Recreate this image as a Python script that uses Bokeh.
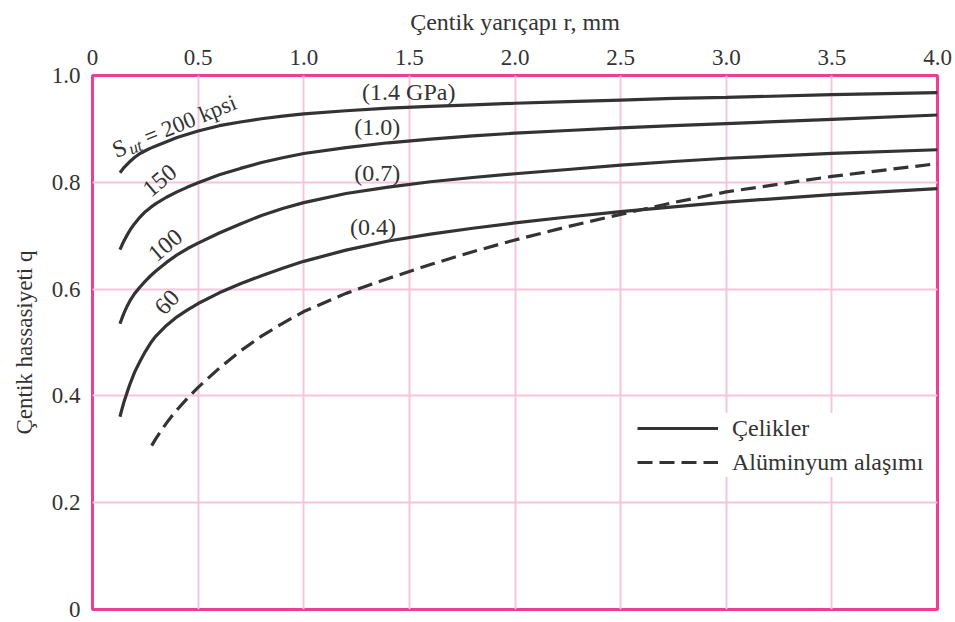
from bokeh.plotting import figure
from bokeh.models import FixedTicker, Label, Legend, LegendItem, Range1d
from bokeh.embed import file_html
from bokeh.resources import INLINE

# ---- data ----
r_steel = [0.13, 0.14, 0.15, 0.165, 0.18, 0.2, 0.225, 0.25, 0.275, 0.3, 0.35, 0.4,
           0.45, 0.5, 0.6, 0.7, 0.8, 0.9, 1.0, 1.2, 1.4, 1.6, 1.8, 2.0, 2.25, 2.5,
           2.75, 3.0, 3.5, 4.0]
q_200 = [0.818, 0.823, 0.828, 0.834, 0.840, 0.847, 0.854, 0.859, 0.864, 0.868,
         0.876, 0.884, 0.890, 0.896, 0.906, 0.913, 0.919, 0.924, 0.928, 0.934,
         0.939, 0.942, 0.945, 0.948, 0.951, 0.954, 0.957, 0.959, 0.964, 0.968]
q_150 = [0.674, 0.683, 0.691, 0.702, 0.712, 0.723, 0.735, 0.745, 0.753, 0.760,
         0.772, 0.782, 0.791, 0.799, 0.814, 0.826, 0.837, 0.846, 0.854, 0.865,
         0.874, 0.881, 0.887, 0.892, 0.897, 0.902, 0.906, 0.910, 0.918, 0.926]
q_100 = [0.535, 0.546, 0.556, 0.569, 0.580, 0.592, 0.604, 0.615, 0.625, 0.634,
         0.650, 0.664, 0.676, 0.686, 0.705, 0.722, 0.738, 0.751, 0.762, 0.779,
         0.791, 0.801, 0.809, 0.816, 0.824, 0.832, 0.839, 0.845, 0.854, 0.861]
q_60 = [0.361, 0.376, 0.390, 0.408, 0.425, 0.445, 0.465, 0.483, 0.499, 0.512,
        0.532, 0.548, 0.561, 0.573, 0.593, 0.610, 0.625, 0.639, 0.652, 0.673,
        0.690, 0.703, 0.714, 0.724, 0.735, 0.745, 0.754, 0.763, 0.777, 0.788]

r_al = [0.28, 0.3, 0.325, 0.35, 0.375, 0.4, 0.45, 0.5, 0.6, 0.7, 0.8, 0.9, 1.0,
        1.2, 1.4, 1.6, 1.8, 2.0, 2.25, 2.5, 2.75, 3.0, 3.5, 4.0]
q_al = [0.307, 0.320, 0.335, 0.349, 0.362, 0.374, 0.396, 0.416, 0.452, 0.484,
        0.512, 0.536, 0.558, 0.592, 0.620, 0.646, 0.670, 0.692, 0.717, 0.740,
        0.762, 0.782, 0.811, 0.835]

x_ticks = [0, 0.5, 1.0, 1.5, 2.0, 2.5, 3.0, 3.5, 4.0]
x_tick_labels = ["0", "0.5", "1.0", "1.5", "2.0", "2.5", "3.0", "3.5", "4.0"]
y_ticks = [0, 0.2, 0.4, 0.6, 0.8, 1.0]
y_tick_labels = ["0", "0.2", "0.4", "0.6", "0.8", "1.0"]

x_title = "Çentik yarıçapı r, mm"
y_title = "Çentik hassasiyeti q"
legend_labels = ["Çelikler", "Alüminyum alaşımı"]
strength_labels = ["150", "100", "60"]
gpa_labels = ["(1.4 GPa)", "(1.0)", "(0.7)", "(0.4)"]

FONT = "Liberation Serif"
INK = "#333333"
PINK = "#ee3d94"
GRID = "#f8c4dc"

p = figure(width=955, height=622, x_range=Range1d(0, 4), y_range=Range1d(0, 1),
           x_axis_location="above", output_backend="svg", toolbar_location=None,
           min_border_left=92, min_border_top=75, min_border_right=18,
           min_border_bottom=13)
p.background_fill_color = "white"
p.border_fill_color = "white"
p.outline_line_color = PINK
p.outline_line_width = 3

for ax, ticks, labels, standoff, title, tsize in (
        (p.xaxis, x_ticks, x_tick_labels, 5, x_title, "24px"),
        (p.yaxis, y_ticks, y_tick_labels, 6, y_title, "23px")):
    ax.ticker = FixedTicker(ticks=ticks)
    ax.major_label_overrides = dict(zip(ticks, labels))
    ax.major_label_text_font = FONT
    ax.major_label_text_font_size = "23px"
    ax.major_label_text_color = INK
    ax.major_label_standoff = standoff
    ax.major_tick_line_color = None
    ax.minor_tick_line_color = None
    ax.axis_line_color = None
    ax.axis_label = title
    ax.axis_label_text_font = FONT
    ax.axis_label_text_font_size = tsize
    ax.axis_label_text_font_style = "normal"
    ax.axis_label_text_color = INK
    ax.axis_label_standoff = 12

p.xgrid.grid_line_color = GRID
p.ygrid.grid_line_color = GRID
p.xgrid.grid_line_width = 2
p.ygrid.grid_line_width = 2

lines = []
for q in (q_200, q_150, q_100, q_60):
    lines.append(p.line(r_steel, q, line_color=INK, line_width=3.2))
l_al = p.line(r_al, q_al, line_color=INK, line_width=3.2, line_dash="15 7")

legend = Legend(items=[LegendItem(label=legend_labels[0], renderers=[lines[0]]),
                       LegendItem(label=legend_labels[1], renderers=[l_al])],
                location=(545, 132), glyph_width=81, glyph_height=30,
                label_height=30, label_standoff=14, spacing=4, padding=10,
                margin=0, border_line_color=None, background_fill_color="white",
                background_fill_alpha=1.0, label_text_font=FONT,
                label_text_font_size="24px", label_text_color=INK)
p.add_layout(legend)

def lab(x, y, text, size="24px", align="center", baseline="middle", angle=0,
        style="normal"):
    p.add_layout(Label(x=x, y=y, text=text, text_font=FONT, text_font_size=size,
                       text_color=INK, text_align=align, text_baseline=baseline,
                       angle=angle, angle_units="deg", text_font_style=style))

# S_ut = 200 kpsi
lab(0.0987, 0.8591, "S", align="left", baseline="alphabetic", angle=22)
lab(0.1746, 0.8613, "ut", size="17px", align="left", baseline="alphabetic",
    angle=22, style="italic")
lab(0.2494, 0.8832, "= 200 kpsi", size="23px", align="left", baseline="alphabetic",
    angle=22)

# strength labels on curves
for (x, y, a), t in zip(((0.319, 0.803, 40), (0.346, 0.682, 40), (0.354, 0.575, 47)),
                        strength_labels):
    lab(x, y, t, angle=a)

for (x, y), t in zip(((1.497, 0.970), (1.348, 0.903), (1.348, 0.817), (1.328, 0.716)),
                     gpa_labels):
    lab(x, y, t)

open("out.html", "w").write(file_html(p, INLINE))
